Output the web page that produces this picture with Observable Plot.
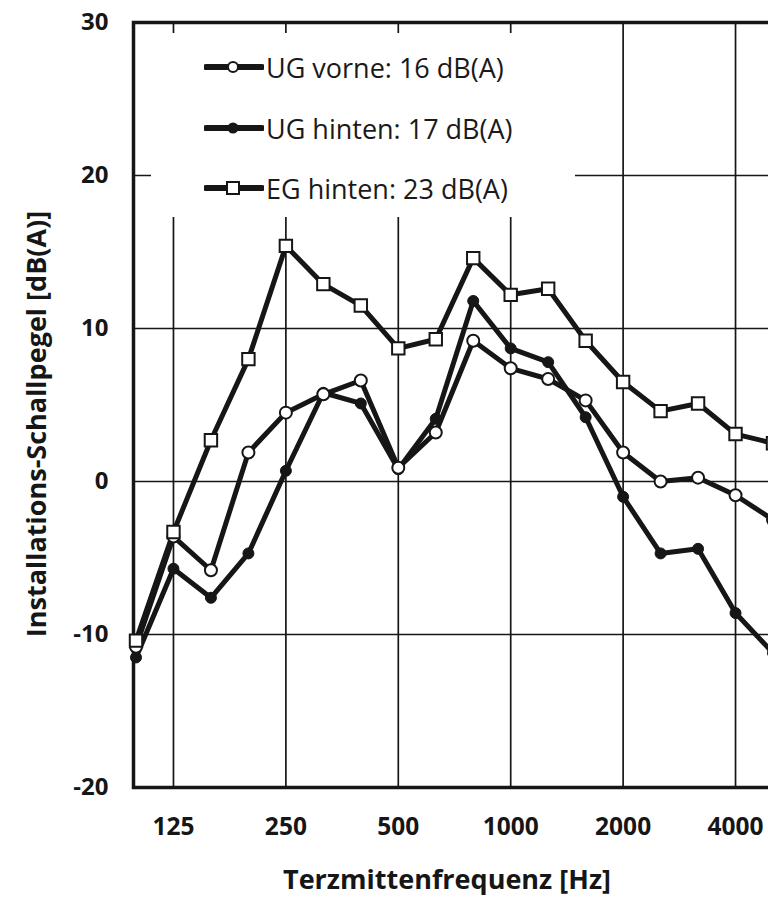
<!DOCTYPE html>
<html>
<head>
<meta charset="utf-8">
<script src="https://cdn.jsdelivr.net/npm/d3@7"></script>
<script src="https://cdn.jsdelivr.net/npm/@observablehq/plot@0.6"></script>
<style>
  html, body { margin: 0; padding: 0; background: white; overflow: hidden; }
  #wrap { position: relative; width: 768px; height: 897px; overflow: hidden; }
  #legend { position: absolute; left: 151px; top: 33px; width: 424px; height: 184px; background: white;
            font-family: "Open Sans", sans-serif; font-size: 27px; color: #1a1a1a; }
  .row { position: absolute; left: 53px; height: 40px; display: flex; align-items: center; }
  .row svg { margin-right: 2px; }
</style>
</head>
<body>
<div id="wrap"></div>
<script>
const freqs = ["100","125","160","200","250","315","400","500","630","800","1000","1250","1600","2000","2500","3150","4000","5000"];
const ugVorne  = [-10.8, -3.6, -5.8, 1.9, 4.5, 5.7, 6.6, 0.9, 3.2, 9.2, 7.4, 6.7, 5.3, 1.9, 0.0, 0.25, -0.9, -2.5];
const ugHinten = [-11.5, -5.7, -7.6, -4.7, 0.7, 5.8, 5.1, 0.8, 4.1, 11.8, 8.7, 7.8, 4.2, -1.0, -4.7, -4.4, -8.6, -11.2];
const egHinten = [-10.4, -3.3, 2.7, 8.0, 15.4, 12.9, 11.5, 8.7, 9.3, 14.6, 12.2, 12.6, 9.2, 6.5, 4.6, 5.1, 3.1, 2.5];
const seriesNames = ["UG vorne: 16 dB(A)", "UG hinten: 17 dB(A)", "EG hinten: 23 dB(A)"];
const xTicks = ["125","250","500","1000","2000","4000"];
const yTicks = [-20, -10, 0, 10, 20, 30];
const yGrid = [-10, 0, 10, 20];
const xLabel = "Terzmittenfrequenz [Hz]";
const yLabel = "Installations-Schallpegel [dB(A)]";

const toRows = (vals, s) => vals.map((v, i) => ({f: freqs[i], v, s}));
const rowsV = toRows(ugVorne, seriesNames[0]);
const rowsH = toRows(ugHinten, seriesNames[1]);
const rowsE = toRows(egHinten, seriesNames[2]);
const ink = "#161616";

const chart = Plot.plot({
  width: 768, height: 897,
  marginLeft: 133, marginRight: -8, marginTop: 22, marginBottom: 110,
  x: {type: "point", domain: freqs, range: [135.5, 772.5], padding: 0, align: 0, round: false},
  y: {domain: [-20, 30], range: [787, 22]},
  style: {fontFamily: "Open Sans, sans-serif", background: "white", overflow: "hidden", color: ink},
  marks: [
    Plot.ruleX(xTicks, {stroke: ink, strokeWidth: 1.7}),
    Plot.ruleY(yGrid, {stroke: ink, strokeWidth: 1.7}),
    Plot.frame({stroke: ink, strokeWidth: 3.5}),
    Plot.axisY(yTicks, {tickSize: 0, tickPadding: 25, fontSize: 24, fontWeight: "bold", label: null, fill: ink, tickFormat: d => String(d)}),
    Plot.axisX(xTicks, {tickSize: 0, tickPadding: 30, fontSize: 24.5, fontWeight: "bold", label: null, fill: ink}),
    Plot.text([yLabel], {frameAnchor: "left", textAnchor: "middle", lineAnchor: "middle", rotate: -90, dx: -96, dy: 19, fontSize: 27, fontWeight: "bold", fill: ink}),
    Plot.text([xLabel], {frameAnchor: "bottom", textAnchor: "middle", lineAnchor: "middle", dx: -8, dy: 93, fontSize: 27, fontWeight: "bold", fill: ink}),
    Plot.line(rowsH, {x: "f", y: "v", stroke: ink, strokeWidth: 5}),
    Plot.line(rowsV, {x: "f", y: "v", stroke: ink, strokeWidth: 5}),
    Plot.line(rowsE, {x: "f", y: "v", stroke: ink, strokeWidth: 5}),
    Plot.dot(rowsH, {x: "f", y: "v", r: 5.5, fill: ink, stroke: ink, strokeWidth: 1}),
    Plot.dot(rowsV, {x: "f", y: "v", r: 6, fill: "white", stroke: ink, strokeWidth: 2}),
    Plot.dot(rowsE, {x: "f", y: "v", r: 7, symbol: "square", fill: "white", stroke: ink, strokeWidth: 2})
  ]
});
const wrap = document.getElementById("wrap");
wrap.appendChild(chart);

// legend
const legend = document.createElement("div");
legend.id = "legend";
const markers = [
  '<circle cx="29" cy="12" r="5" fill="white" stroke="' + ink + '" stroke-width="2"/>',
  '<circle cx="29" cy="12" r="5.5" fill="' + ink + '"/>',
  '<rect x="23" y="6" width="12" height="12" fill="white" stroke="' + ink + '" stroke-width="2"/>'
];
const tops = [14, 75, 135];
seriesNames.forEach((name, i) => {
  const row = document.createElement("div");
  row.className = "row";
  row.style.top = tops[i] + "px";
  row.innerHTML = '<svg width="60" height="24"><line x1="2" y1="12" x2="58" y2="12" stroke="' + ink +
    '" stroke-width="6" stroke-linecap="round"/>' + markers[i] + '</svg><span>' + name + '</span>';
  legend.appendChild(row);
});
wrap.appendChild(legend);
</script>
</body>
</html>
